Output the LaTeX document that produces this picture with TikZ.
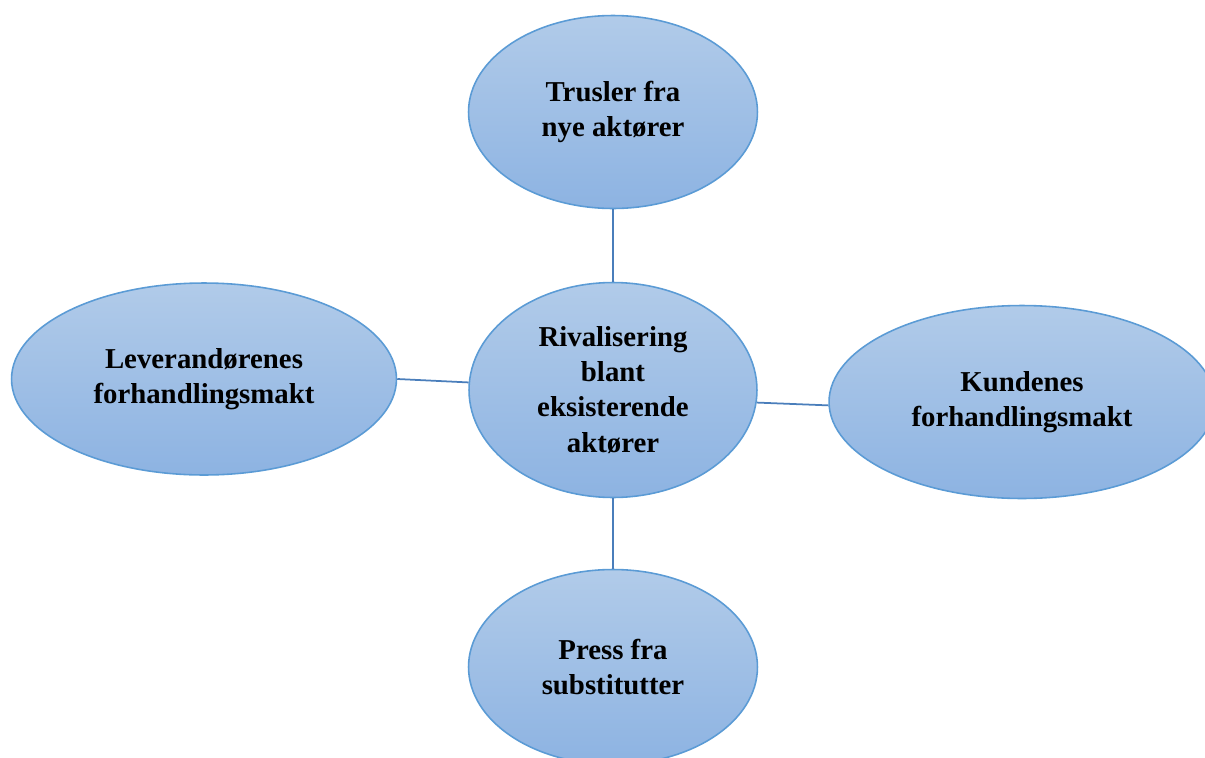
\documentclass[tikz,border=0pt]{standalone}
\usepackage{fontspec}
\setmainfont{Liberation Serif}
\usetikzlibrary{shapes.geometric,positioning}
\definecolor{ForceTop}{HTML}{B1CBE9}
\definecolor{ForceBottom}{HTML}{8DB3E2}
\definecolor{ForceEdge}{HTML}{5B9BD5}
\definecolor{LinkBlue}{HTML}{4A7EBB}

\begin{document}
\begin{tikzpicture}[x=0.02cm, y=-0.02cm,
    force/.style={ellipse, draw=ForceEdge, line width=0.9pt, top color=ForceTop, bottom color=ForceBottom, inner sep=0pt, align=center, font=\fontsize{16.4}{20}\selectfont\bfseries},
    link/.style={draw=LinkBlue, line width=1pt}]
    \clip (0,0) rectangle (1205,758);
    % Ellipses (positions in pixels of the page)
    \node[force, minimum width=5.76cm, minimum height=4.3cm] (rival) at (613,390) {Rivalisering\\blant\\eksisterende\\aktører};
    \node[force, minimum width=5.78cm, minimum height=3.86cm] (nye) at (613,112) {Trusler fra\\nye aktører};
    \node[force, minimum width=7.7cm, minimum height=3.84cm] (lev) at (204,379) {Leverandørenes\\forhandlingsmakt};
    \node[force, minimum width=7.72cm, minimum height=3.86cm] (kunde) at (1022,402) {Kundenes\\forhandlingsmakt};
    \node[force, minimum width=5.78cm, minimum height=3.9cm] (subst) at (613,667) {Press fra\\substitutter};

    % Connectors (plain lines, no arrow tips)
    \draw[link] (nye) -- (rival);
    \draw[link] (lev.east) -- (rival.177);
    \draw[link] (rival.-5) -- (kunde.181);
    \draw[link] (rival) -- (subst);
\end{tikzpicture}
\end{document}
